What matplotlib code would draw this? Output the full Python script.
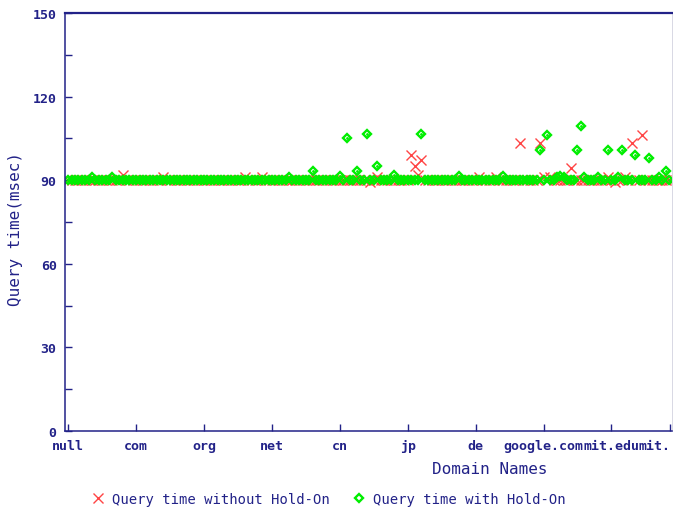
import numpy as np
import matplotlib
matplotlib.use("Agg")
import matplotlib.pyplot as plt

# query times (msec), one value per query, 20 queries per domain group
without_hold = (
    [90, 90, 90, 90, 90, 90, 90, 90, 90, 90, 90, 90, 90, 90, 90, 90, 92, 90, 90, 90] +
    [90, 90, 90, 90, 90, 90, 90, 90, 91, 90, 90, 90, 90, 90, 90, 90, 90, 90, 90, 90] +
    [90, 90, 90, 90, 90, 90, 90, 90, 90, 90, 90, 90, 91, 90, 90, 90, 90, 91, 90, 90] +
    [90, 90, 90, 90, 90, 90, 90, 90, 90, 90, 90, 90, 90, 90, 90, 90, 90, 90, 90, 90] +
    [90, 90, 90, 90, 90, 90, 90, 90, 90, 89.5, 90, 91.3, 90, 90, 90, 90, 90, 90, 90, 90] +
    [90, 99.2, 95, 92, 97.4, 90, 90, 90, 90, 90, 90, 90, 90, 90, 90, 90, 90, 90, 90, 90] +
    [90, 91, 90, 90, 90, 90, 91, 90, 90, 90, 90, 90, 90, 103.3, 90, 90, 90, 90, 90, 103.3] +
    [91, 90, 91, 90, 90, 90, 90, 90, 94.3, 90, 90, 90, 90, 90, 90, 90, 90, 90, 90, 91] +
    [90, 89.5, 90, 90, 91, 90, 103.3, 90, 90, 106.3, 90, 90, 90, 90, 90, 90, 90, 90]
)
with_hold = (
    [90, 90, 90, 90, 90, 90, 90, 91.3, 90, 90, 90, 90, 90, 91.3, 90, 90, 90, 90, 90, 90] +
    [90, 90, 90, 90, 90, 90, 90, 90, 90, 90, 90, 90, 90, 90, 90, 90, 90, 90, 90, 90] +
    [90, 90, 90, 90, 90, 90, 90, 90, 90, 90, 90, 90, 90, 90, 90, 90, 90, 90, 90, 90] +
    [90, 90, 90, 90, 90, 91.3, 90, 90, 90, 90, 90, 90, 93.2, 90, 90, 90, 90, 90, 90, 90] +
    [91.5, 90, 105, 90, 90, 93.3, 90, 90, 106.5, 90, 90, 95, 90, 90, 90, 90, 91.9, 90, 90, 90] +
    [90, 90, 90, 90, 106.5, 90, 90, 90, 90, 90, 90, 90, 90, 90, 90, 91.5, 90, 90, 90, 90] +
    [90, 90, 90, 90, 90, 90, 90, 90, 91.5, 90, 90, 90, 90, 90, 90, 90, 90, 90, 90, 101] +
    [90, 106.3, 90, 90, 91, 91.5, 91, 90, 90, 90, 101, 109.3, 91, 90, 90, 90, 91.3, 90, 90, 101] +
    [90, 90, 91, 101, 90, 90, 90, 99.2, 90, 90, 90, 97.9, 90, 90, 91.3, 90, 93.2, 90]
)

domain_labels = ["null", "com", "org", "net", "cn", "jp", "de",
                 "google.com", "mit.edu", "mit."]
domain_pos = [0, 20, 40, 60, 80, 100, 120, 140, 160, 177.4]

navy = "#222288"
W, H = 673, 510

fig = plt.figure(figsize=(W / 100, H / 100), dpi=100)
ax = fig.add_axes([65 / W, 1 - 432 / H, (671.5 - 65) / W, (432 - 14) / H])

x = np.arange(len(with_hold))
ax.plot(x, without_hold, linestyle="none", marker="x", markersize=6.5,
        markeredgewidth=1.0, color="#ff4545", label="Query time without Hold-On")
ax.plot(x, with_hold, linestyle="none", marker="D", markersize=4.2,
        markerfacecolor="none", markeredgewidth=1.7, color="#00ee00",
        label="Query time with Hold-On")
ax.plot(x, with_hold, linestyle="none", marker="o", markersize=1.0,
        color="#00ee00")

ax.set_xlim(-0.97, 177.7)
ax.set_ylim(0, 150)

ax.set_yticks(np.arange(0, 151, 30))
ax.set_yticks(np.arange(15, 151, 30), minor=True)
ax.set_xticks(domain_pos)
ax.set_xticklabels(domain_labels)

for lab in ax.get_xticklabels() + ax.get_yticklabels():
    lab.set_fontfamily("DejaVu Sans Mono")
    lab.set_fontweight("bold")
    lab.set_fontsize(9.5)
    lab.set_color(navy)
# last label sits at the very edge of the picture
ax.get_xticklabels()[-1].set_horizontalalignment("right")

ax.tick_params(axis="both", which="both", direction="in", length=5,
               width=1.0, color=navy)
ax.tick_params(axis="y", pad=6)
ax.tick_params(axis="x", pad=6)

for side in ["left", "bottom"]:
    ax.spines[side].set_color(navy)
    ax.spines[side].set_linewidth(1.1)
ax.spines["top"].set_color(navy)
ax.spines["top"].set_linewidth(1.6)
ax.spines["right"].set_color("#d8d8e4")
ax.spines["right"].set_linewidth(0.7)

fig.text(15.5 / W, 1 - 229 / H, "Query time(msec)", rotation=90,
         ha="center", va="center", fontsize=11.5, color=navy,
         family="DejaVu Sans Mono")
fig.text(490 / W, 1 - 470 / H, "Domain Names", ha="center", va="center",
         fontsize=11.5, color=navy, family="DejaVu Sans Mono")

leg = fig.legend(loc="center", bbox_to_anchor=(328 / W, 1 - 500 / H), ncol=2,
                 frameon=False, numpoints=1, handlelength=1.0,
                 handletextpad=0.5, columnspacing=1.6, borderpad=0,
                 prop={"family": "DejaVu Sans Mono", "size": 10})
for t in leg.get_texts():
    t.set_color(navy)

fig.savefig("out.png", dpi=100)
